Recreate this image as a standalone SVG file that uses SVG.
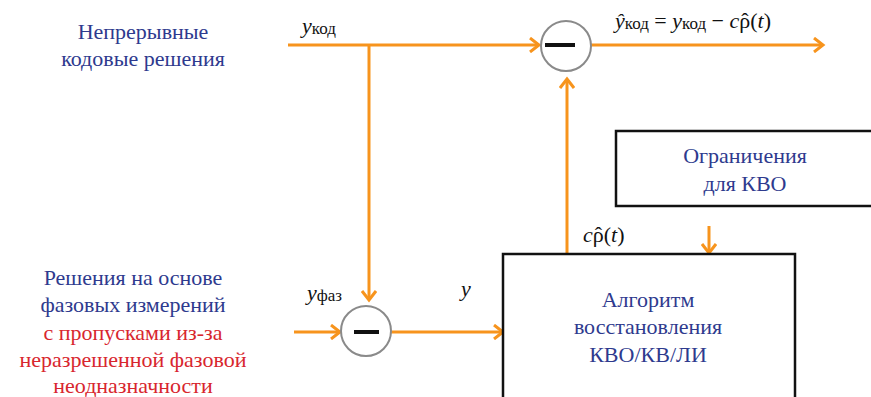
<svg xmlns="http://www.w3.org/2000/svg" width="871" height="397" viewBox="0 0 871 397">
  <defs>
    <marker id="arr" markerUnits="userSpaceOnUse" markerWidth="14" markerHeight="16" refX="11" refY="8" orient="auto">
      <path d="M2,1 L11,8 L2,15" stroke="#f7941d" stroke-width="3" fill="none"/>
    </marker>
  </defs>
  <rect width="871" height="397" fill="#fff"/>

  <g id="labels-left" font-size="22" text-anchor="middle">
    <text font-family="Liberation Serif" fill="#2e3a8e" x="143" y="39">Непрерывные</text>
    <text font-family="Liberation Serif" fill="#2e3a8e" x="143" y="66">кодовые решения</text>
    <text font-family="Liberation Serif" fill="#2e3a8e" x="133" y="285">Решения на основе</text>
    <text font-family="Liberation Serif" fill="#2e3a8e" x="133" y="312">фазовых измерений</text>
    <text font-family="Liberation Serif" fill="#d8262e" x="133" y="340">с пропусками из-за</text>
    <text font-family="Liberation Serif" fill="#d8262e" x="133" y="367">неразрешенной фазовой</text>
    <text font-family="Liberation Serif" fill="#d8262e" x="133" y="393">неодназначности</text>
  </g>

  <g id="connectors" stroke="#f7941d" stroke-width="3" fill="none">
    <line x1="288" y1="45" x2="539" y2="45" marker-end="url(#arr)"/>
    <line x1="591" y1="45" x2="823" y2="45" marker-end="url(#arr)"/>
    <line x1="369" y1="45" x2="369" y2="300" marker-end="url(#arr)"/>
    <line x1="294" y1="332" x2="340" y2="332" marker-end="url(#arr)"/>
    <line x1="391" y1="332" x2="503" y2="332" marker-end="url(#arr)"/>
    <line x1="567" y1="254" x2="567" y2="79" marker-end="url(#arr)"/>
    <line x1="709" y1="226" x2="709" y2="253" marker-end="url(#arr)"/>
  </g>

  <g id="sum-top">
    <circle cx="566" cy="46" r="25" stroke="#8a8a8a" stroke-width="2" fill="#fff"/>
    <line x1="545" y1="45" x2="575" y2="45" stroke="#111" stroke-width="4"/>
  </g>
  <g id="sum-bottom">
    <circle cx="366" cy="331" r="25" stroke="#8a8a8a" stroke-width="2" fill="#fff"/>
    <line x1="354" y1="332" x2="379" y2="332" stroke="#111" stroke-width="4"/>
  </g>

  <g id="constraints" font-size="22" text-anchor="middle" fill="#2e3a8e">
    <rect x="616" y="131" width="270" height="75" stroke="#111" stroke-width="2.5" fill="#fff"/>
    <text font-family="Liberation Serif" x="745" y="163">Ограничения</text>
    <text font-family="Liberation Serif" x="745" y="191">для КВО</text>
  </g>

  <g id="algorithm" font-size="22" text-anchor="middle" fill="#2e3a8e">
    <rect x="503" y="254" width="292" height="160" stroke="#111" stroke-width="2.5" fill="#fff"/>
    <text font-family="Liberation Serif" x="648" y="307">Алгоритм</text>
    <text font-family="Liberation Serif" x="648" y="334">восстановления</text>
    <text font-family="Liberation Serif" x="648" y="362">КВО/КВ/ЛИ</text>
  </g>

  <g id="math" font-size="22" fill="#111">
    <text font-family="Liberation Serif" x="302" y="33"><tspan font-style="italic">y</tspan><tspan font-size="17" dy="1">код</tspan></text>
    <text font-family="Liberation Serif" x="615" y="28"><tspan font-style="italic">ŷ</tspan><tspan font-size="17" dy="1">код</tspan><tspan dy="-1"> = </tspan><tspan font-style="italic">y</tspan><tspan font-size="17" dy="1">код</tspan><tspan dy="-1"> − </tspan><tspan font-style="italic">c</tspan><tspan>ρ</tspan><tspan dx="-9">ˆ</tspan><tspan dx="1.7">(</tspan><tspan font-style="italic">t</tspan><tspan>)</tspan></text>
    <text font-family="Liberation Serif" x="307" y="300"><tspan font-style="italic">y</tspan><tspan font-size="17" dy="1">фаз</tspan></text>
    <text font-family="Liberation Serif" font-style="italic" x="461" y="296">y</text>
    <text font-family="Liberation Serif" x="583" y="242"><tspan font-style="italic">c</tspan><tspan>ρ</tspan><tspan dx="-9">ˆ</tspan><tspan dx="1.7">(</tspan><tspan font-style="italic">t</tspan><tspan>)</tspan></text>
  </g>
</svg>
